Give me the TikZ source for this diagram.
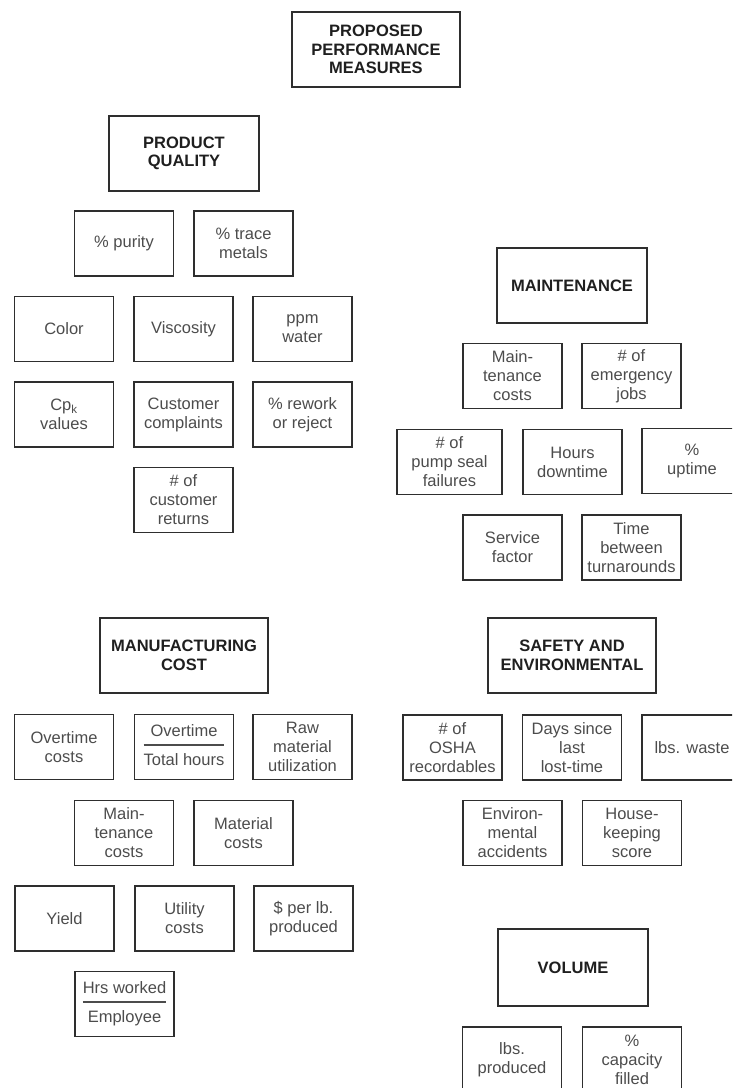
\documentclass[tikz,border=0pt]{standalone}
\usepackage{fontspec}
\setmainfont{Liberation Sans}
\newcommand\myfrac[2]{{\setlength{\arrayrulewidth}{1.3pt}\begin{tabular}{@{}c@{}}#1\\[2pt]\hline\rule{0pt}{19.5pt}#2\end{tabular}}}
\begin{document}
\begin{tikzpicture}[x=1pt,y=-1pt,
  box/.style={draw=black!82, line width=1.7pt, minimum width=99pt, minimum height=65pt,
    inner sep=0pt, align=center, text=black!70, font=\fontsize{16.5}{19}\selectfont},
  head/.style={box, minimum width=150pt, minimum height=75pt, text=black!88,
    font=\fontsize{16.5}{18.5}\selectfont\bfseries},
  wide/.style={minimum width=168pt}]
\useasboundingbox (0,0) rectangle (732,1088);
\clip (0,0) rectangle (732,1088);

% headings
\node[head, wide] (ppm) at (376,49.5) {PROPOSED\\PERFORMANCE\\MEASURES};
\node[head] (pq) at (184,153.5) {PRODUCT\\QUALITY};
\node[head] (mnt) at (572,285.5) {MAINTENANCE};
\node[head, wide] (mc) at (184,655.5) {MANUFACTURING\\COST};
\node[head, wide] (se) at (572,655.5) {SAFETY AND\\ENVIRONMENTAL};
\node[head, minimum height=77pt] (vol) at (573,967.5) {VOLUME};

% product quality
\node[box] (pur) at (124,243.5) {\% purity};
\node[box] (trace) at (243.5,243.5) {\% trace\\metals};
\node[box] (color) at (64,329) {Color};
\node[box] (visc) at (183.5,329) {Viscosity};
\node[box] (ppmw) at (302.5,329) {ppm\\water};
\node[box] (cpk) at (64,414.5) {Cp\textsubscript{k}\\values};
\node[box] (cc) at (183.5,414.5) {Customer\\complaints};
\node[box] (rew) at (302.5,414.5) {\% rework\\or reject};
\node[box] (ret) at (183.5,500) {\# of\\customer\\returns};

% maintenance
\node[box] (mcost) at (512.5,376) {Main-\\tenance\\costs};
\node[box] (emer) at (631.5,376) {\# of\\emergency\\jobs};
\node[box, minimum width=105pt] (pump) at (449.5,462) {\# of\\pump seal\\failures};
\node[box] (hrs) at (572.5,462) {Hours\\downtime};
\node[box, minimum width=100pt] (upt) at (692,461) {\%\\uptime};
\node[box] (serv) at (512.5,547.5) {Service\\factor};
\node[box] (turn) at (631.5,547.5) {Time\\between\\turnarounds};

% manufacturing cost
\node[box] (otc) at (64,747) {Overtime\\costs};
\node[box] (otf) at (184,747) {\myfrac{Overtime}{Total hours}};
\node[box] (raw) at (302.5,747) {Raw\\material\\utilization};
\node[box] (mc2) at (124,833) {Main-\\tenance\\costs};
\node[box] (matc) at (243.5,833) {Material\\costs};
\node[box] (yld) at (64.5,918.5) {Yield};
\node[box] (util) at (184.5,918.5) {Utility\\costs};
\node[box] (dpl) at (303.5,918.5) {\$ per lb.\\produced};
\node[box] (hwe) at (124.5,1004) {\myfrac{Hrs worked}{Employee}};

% safety and environmental
\node[box] (osha) at (452.5,747.5) {\# of\\OSHA\\recordables};
\node[box] (days) at (572,747.5) {Days since\\last\\lost-time};
\node[box, minimum width=100pt] (waste) at (692,747.5) {lbs. waste};
\node[box] (env) at (512.5,833) {Environ-\\mental\\accidents};
\node[box] (house) at (632,833) {House-\\keeping\\score};

% volume
\node[box] (lbsp) at (512,1059.5) {lbs.\\produced};
\node[box] (cap) at (632,1059.5) {\%\\capacity\\filled};
\end{tikzpicture}
\end{document}
